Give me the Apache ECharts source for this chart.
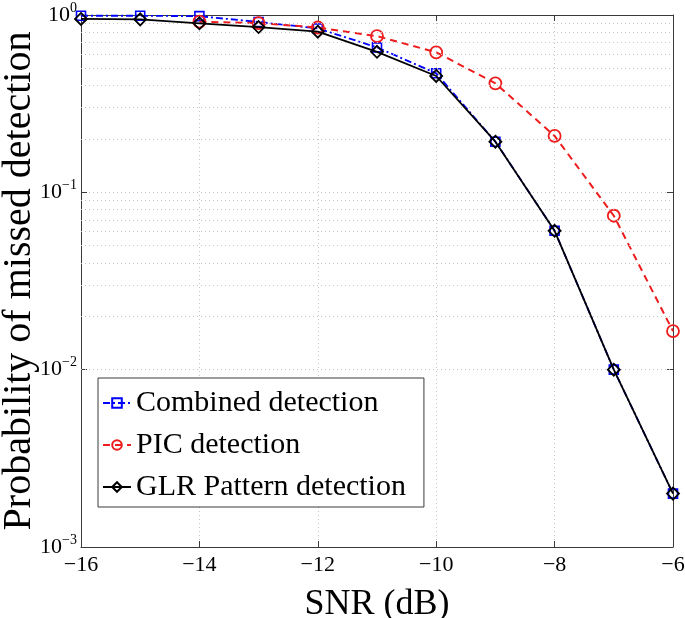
<!DOCTYPE html>
<html><head><meta charset="utf-8">
<script src="https://cdn.jsdelivr.net/npm/echarts@6/dist/echarts.min.js"></script>
<style>html,body{margin:0;padding:0;background:#fff}#c{width:685px;height:618px}</style>
</head><body><div id="c"></div>
<script>
var snr = [-16, -15, -14, -13, -12, -11, -10, -9, -8, -7, -6];
var combined = [0.99, 0.99, 0.985, 0.913, 0.84, 0.657, 0.469, 0.193, 0.0607, 0.0100, 0.00200];
var pic = [null, null, 0.917, 0.90, 0.85, 0.76, 0.616, 0.412, 0.208, 0.0738, 0.0165];
var glr = [0.95, 0.945, 0.898, 0.855, 0.805, 0.62, 0.453, 0.193, 0.0607, 0.0100, 0.00200];
var seriesNames = ['Combined detection', 'PIC detection', 'GLR Pattern detection'];

var FONT = '"Liberation Serif", "DejaVu Serif", serif';
function pairs(arr) { return snr.map(function (x, i) { return [x, arr[i]]; }); }
var minor = [];
for (var e = -3; e < 0; e++) for (var m = 2; m <= 9; m++) minor.push({ yAxis: m * Math.pow(10, e) });

var chart = echarts.init(document.getElementById('c'));
var axisLineStyle = { color: '#3a3a3a', width: 1 };
var gridLine = { color: '#c4c4c4', type: [1, 3], width: 1 };
chart.setOption({
  animation: false,
  backgroundColor: '#fff',
  textStyle: { fontFamily: FONT },
  grid: { left: 81, right: 12, top: 15, bottom: 71, containLabel: false, outerBoundsMode: 'none' },
  xAxis: [{
    type: 'value', min: -16, max: -6, interval: 2,
    name: 'SNR (dB)', nameLocation: 'middle', nameGap: 40, nameMoveOverlap: false,
    nameTextStyle: { fontFamily: FONT, fontSize: 36, color: '#000' },
    axisLine: { show: true, lineStyle: axisLineStyle },
    axisTick: { show: true, inside: true, length: 6, lineStyle: axisLineStyle },
    axisLabel: { fontFamily: FONT, fontSize: 22, color: '#000', margin: 7,
      formatter: function (v) { return String(v).replace('-', '\u2212'); } },
    splitLine: { show: true, lineStyle: gridLine }
  }, {
    type: 'value', min: -16, max: -6, interval: 2, position: 'top',
    axisLine: { show: true, lineStyle: axisLineStyle },
    axisTick: { show: true, inside: true, length: 6, lineStyle: axisLineStyle },
    axisLabel: { show: false }, splitLine: { show: false }
  }],
  yAxis: [{
    type: 'log', logBase: 10, min: 0.001, max: 1,
    name: 'Probability of missed detection', nameLocation: 'middle', nameGap: 42, nameMoveOverlap: false,
    nameTextStyle: { fontFamily: FONT, fontSize: 40, color: '#000' },
    axisLine: { show: true, lineStyle: axisLineStyle },
    axisTick: { show: true, inside: true, length: 6, lineStyle: axisLineStyle },
    axisLabel: { color: '#000', margin: 4,
      formatter: function (v) {
        var ex = Math.round(Math.log10(v));
        return '{b|10}{s|' + String(ex).replace('-', '\u2212') + '}';
      },
      rich: {
        b: { fontFamily: FONT, fontSize: 22, color: '#000' },
        s: { fontFamily: FONT, fontSize: 14, color: '#000', padding: [0, 0, 14, 0] }
      }
    },
    splitLine: { show: true, lineStyle: gridLine }
  }, {
    type: 'log', logBase: 10, min: 0.001, max: 1, position: 'right',
    axisLine: { show: true, lineStyle: axisLineStyle },
    axisTick: { show: true, inside: true, length: 6, lineStyle: axisLineStyle },
    axisLabel: { show: false }, splitLine: { show: false }
  }],
  legend: {
    orient: 'vertical', left: 98, top: 378,
    data: seriesNames,
    backgroundColor: '#fff', borderColor: '#3a3a3a', borderWidth: 1,
    padding: [10, 18, 5, 4], itemGap: 12, itemWidth: 28, itemHeight: 12,
    textStyle: { fontFamily: FONT, fontSize: 30, color: '#000' }
  },
  series: [
    { name: 'minor', type: 'line', data: [], silent: true,
      markLine: { silent: true, symbol: ['none', 'none'], label: { show: false },
        lineStyle: gridLine, data: minor, animation: false } },
    { name: seriesNames[0], type: 'line', data: pairs(combined), z: 3,
      symbol: 'rect', symbolSize: 9, showAllSymbol: true,
      lineStyle: { color: '#0000ff', width: 1.8, type: [7, 3, 2, 3] },
      itemStyle: { color: '#ffffff00', borderColor: '#0000ff', borderWidth: 1.6 } },
    { name: seriesNames[1], type: 'line', data: pairs(pic), z: 4, connectNulls: false,
      symbol: 'circle', symbolSize: 12,
      lineStyle: { color: '#ee1c1c', width: 2, type: [7, 5] },
      itemStyle: { color: '#ffffff00', borderColor: '#ee1c1c', borderWidth: 1.8 } },
    { name: seriesNames[2], type: 'line', data: pairs(glr), z: 5,
      symbol: 'diamond', symbolSize: 12,
      lineStyle: { color: '#000000', width: 1.8, type: 'solid' },
      itemStyle: { color: '#ffffff00', borderColor: '#000000', borderWidth: 1.8 } }
  ]
});
</script></body></html>
